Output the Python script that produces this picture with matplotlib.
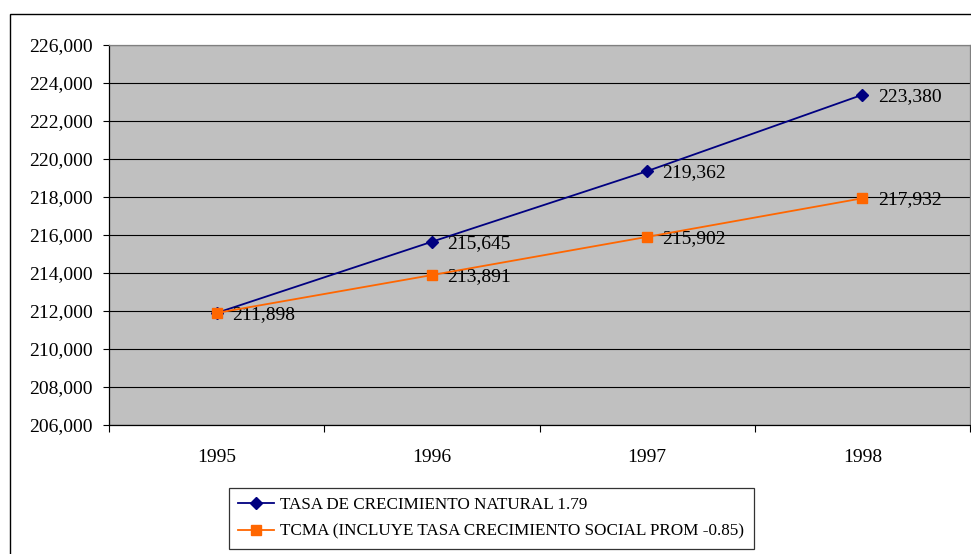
import matplotlib
matplotlib.use("Agg")
import matplotlib.pyplot as plt
from matplotlib.patches import Rectangle
from matplotlib.ticker import FuncFormatter, FixedLocator

YEARS = ["1995", "1996", "1997", "1998"]
NATURAL = [211898, 215645, 219362, 223380]
TCMA = [211898, 213891, 215902, 217932]
LABEL_NATURAL = "TASA DE CRECIMIENTO NATURAL 1.79"
LABEL_TCMA = "TCMA (INCLUYE TASA CRECIMIENTO SOCIAL PROM -0.85)"
Y_TICKS = list(range(206000, 226001, 2000))

NAVY = "#000080"
ORANGE = "#FF6600"

plt.rcParams["font.family"] = ["Liberation Serif", "DejaVu Serif"]

fig = plt.figure(figsize=(9.71, 5.54), dpi=100)
W, H = 971, 554

# outer chart frame (runs off the right/bottom edge)
fig.patches.append(Rectangle((10 / W, -0.2), 1.2, 1.2 - 14 / H,
                             transform=fig.transFigure, fill=False,
                             edgecolor="black", linewidth=1.0))

ax = fig.add_axes([109 / W, 1 - 425 / H, 861 / W, 380 / H])
ax.set_facecolor("#C0C0C0")

x = list(range(len(YEARS)))
ax.plot(x, NATURAL, color=NAVY, linewidth=1.3, marker="D", markersize=6,
        markerfacecolor=NAVY, markeredgecolor=NAVY, label=LABEL_NATURAL, zorder=3)
ax.plot(x, TCMA, color=ORANGE, linewidth=1.3, marker="s", markersize=7,
        markerfacecolor=ORANGE, markeredgecolor=ORANGE, label=LABEL_TCMA, zorder=4)

# data labels (1995 value shared by both series, shown once)
for xi, v in zip(x, NATURAL):
    if xi == 0:
        continue
    ax.annotate(f"{v:,}", (xi, v), xytext=(11, -1), textcoords="offset points",
                ha="left", va="center", fontsize=14)
for xi, v in zip(x, TCMA):
    ax.annotate(f"{v:,}", (xi, v), xytext=(11, -1), textcoords="offset points",
                ha="left", va="center", fontsize=14)

ax.set_xlim(-0.5, 3.5)
ax.set_ylim(206000, 226000)
ax.set_yticks(Y_TICKS)
ax.yaxis.set_major_formatter(FuncFormatter(lambda v, p: f"{int(v):,}"))
ax.set_xticks(x)
ax.set_xticklabels(YEARS)
ax.xaxis.set_minor_locator(FixedLocator([i - 0.5 for i in range(len(YEARS) + 1)]))

ax.tick_params(axis="y", length=4.5, width=0.8, pad=7, labelsize=14, direction="out")
ax.tick_params(axis="x", which="major", length=0, pad=17, labelsize=14)
ax.tick_params(axis="x", which="minor", length=5, width=0.8, direction="out")

ax.grid(axis="y", color="black", linewidth=0.8)
ax.set_axisbelow(True)
for s in ["left", "bottom"]:
    ax.spines[s].set_color("black")
    ax.spines[s].set_linewidth(0.9)
for s in ["top", "right"]:
    ax.spines[s].set_color("#808080")
    ax.spines[s].set_linewidth(0.9)

leg = fig.legend(loc="upper left", bbox_to_anchor=(229 / W, 1 - 488 / H),
                 fontsize=12.3, frameon=True, fancybox=False, edgecolor="black",
                 handlelength=2.1, handletextpad=0.35, borderpad=0.55,
                 labelspacing=0.6, borderaxespad=0)
leg.get_frame().set_linewidth(0.9)

fig.savefig("out.png", dpi=100)
